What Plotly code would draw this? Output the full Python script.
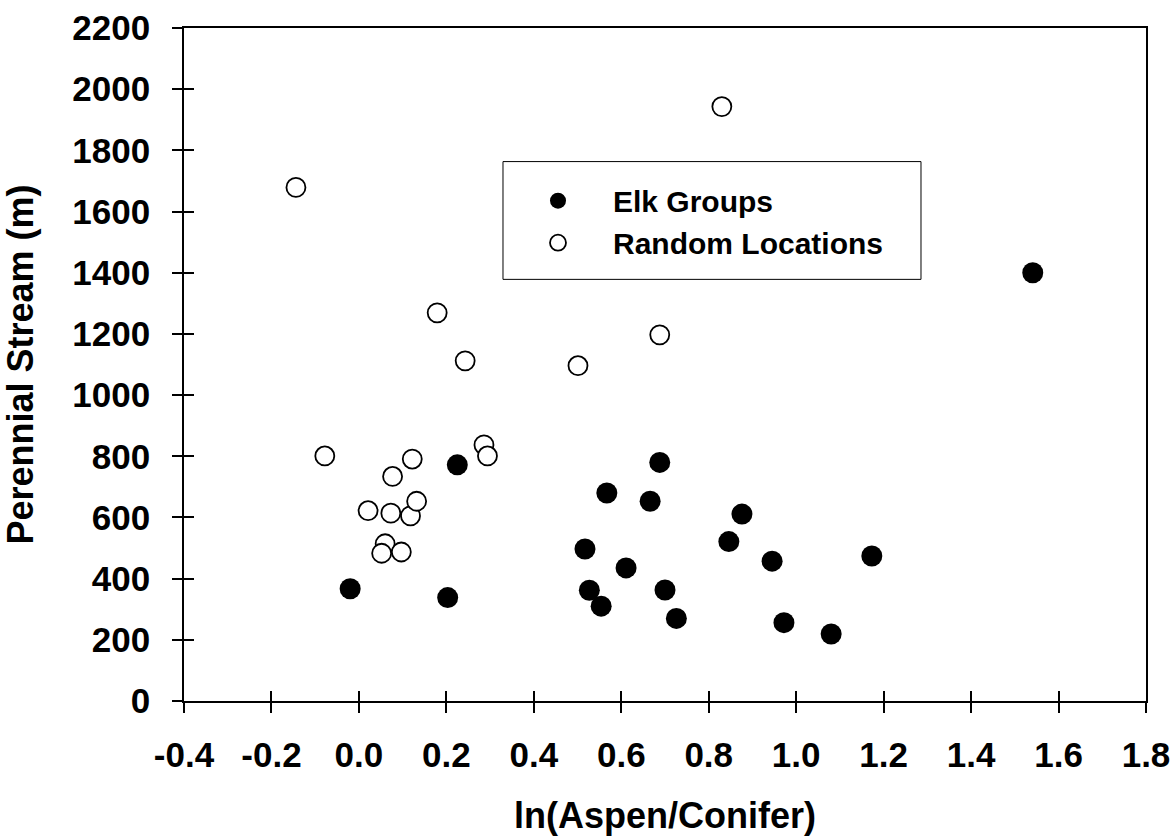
import plotly.graph_objects as go

# ln(Aspen/Conifer) vs. distance to perennial stream
elk_x = [0.225, -0.020, 0.203, 0.688, 0.567, 0.666, 0.876, 0.846, 0.945, 0.517,
         0.611, 0.527, 0.700, 0.554, 0.726, 1.173, 0.972, 1.080, 1.541]
elk_y = [772, 367, 338, 780, 680, 653, 611, 521, 457, 497,
         435, 362, 363, 310, 270, 474, 256, 219, 1400]

rand_x = [-0.144, 0.830, 0.179, 0.243, 0.501, 0.688, -0.078, 0.122, 0.077, 0.021,
          0.073, 0.118, 0.132, 0.060, 0.052, 0.097, 0.286, 0.294]
rand_y = [1679, 1943, 1269, 1112, 1096, 1197, 801, 791, 734, 622,
          614, 605, 653, 514, 483, 487, 837, 801]

x_ticks = [-0.4, -0.2, 0.0, 0.2, 0.4, 0.6, 0.8, 1.0, 1.2, 1.4, 1.6, 1.8]
y_ticks = list(range(0, 2201, 200))

FONT = "Liberation Sans, Arial, sans-serif"
x_range = [-0.4, 1.8]
y_range = [0, 2200]

fig = go.Figure()
fig.add_trace(go.Scatter(
    x=elk_x, y=elk_y, mode="markers", name="Elk Groups",
    marker=dict(symbol="circle", size=21, color="black", line=dict(width=0)),
))
fig.add_trace(go.Scatter(
    x=rand_x, y=rand_y, mode="markers", name="Random Locations",
    marker=dict(symbol="circle", size=19, color="white",
                line=dict(width=1.8, color="black")),
))

tickfont = dict(family=FONT, size=35, color="black", weight="bold")

# legend frame (paper coordinates)
box = dict(x0=0.3316, x1=0.7661, y0=0.6265, y1=0.8015)

fig.update_layout(
    width=1174, height=836,
    margin=dict(l=184, r=28, t=28, b=135, autoexpand=False),
    plot_bgcolor="white", paper_bgcolor="white",
    showlegend=True,
    legend=dict(
        x=0.3316, y=0.782, xanchor="left", yanchor="top",
        borderwidth=0, bgcolor="rgba(0,0,0,0)",
        font=dict(family=FONT, size=30, color="black", weight="bold"),
        itemwidth=100, tracegroupgap=0,
    ),
    shapes=[dict(type="rect", xref="paper", yref="paper",
                 line=dict(color="black", width=1), fillcolor="white",
                 layer="above", **box)],
    xaxis=dict(
        range=x_range, tickvals=x_ticks, ticktext=[f"{v:.1f}" for v in x_ticks],
        ticks="outside", ticklen=10, tickwidth=1.5, tickcolor="black",
        showline=True, linewidth=1.7, linecolor="black", mirror=True,
        showgrid=False, zeroline=False, tickfont=tickfont, automargin=False,
        ticklabelstandoff=12,
        title=dict(text="ln(Aspen/Conifer)", standoff=30,
                   font=dict(family=FONT, size=36, color="black", weight="bold")),
    ),
    yaxis=dict(
        range=y_range, tickvals=y_ticks,
        ticks="outside", ticklen=10, tickwidth=1.5, tickcolor="black",
        showline=True, linewidth=1.7, linecolor="black", mirror=True,
        showgrid=False, zeroline=False, tickfont=tickfont, automargin=False,
        ticklabelstandoff=15,
        title=dict(text="Perennial Stream (m)", standoff=32,
                   font=dict(family=FONT, size=36, color="black", weight="bold")),
    ),
    # overlay axes supply the inner half of the crossing tick marks
    xaxis2=dict(
        range=x_range, tickvals=x_ticks, overlaying="x", side="bottom",
        ticks="inside", ticklen=10, tickwidth=1.5, tickcolor="black",
        showticklabels=False, showline=False, showgrid=False, zeroline=False,
        automargin=False,
    ),
    yaxis2=dict(
        range=y_range, tickvals=y_ticks, overlaying="y", side="left",
        ticks="inside", ticklen=10, tickwidth=1.5, tickcolor="black",
        showticklabels=False, showline=False, showgrid=False, zeroline=False,
        automargin=False,
    ),
)

# invisible anchor trace so the overlay axes are drawn
fig.add_trace(go.Scatter(x=[x_range[0]], y=[y_range[0]], xaxis="x2", yaxis="y2",
                         mode="markers", marker=dict(opacity=0),
                         showlegend=False, hoverinfo="skip"))

fig.write_html("out.html")
